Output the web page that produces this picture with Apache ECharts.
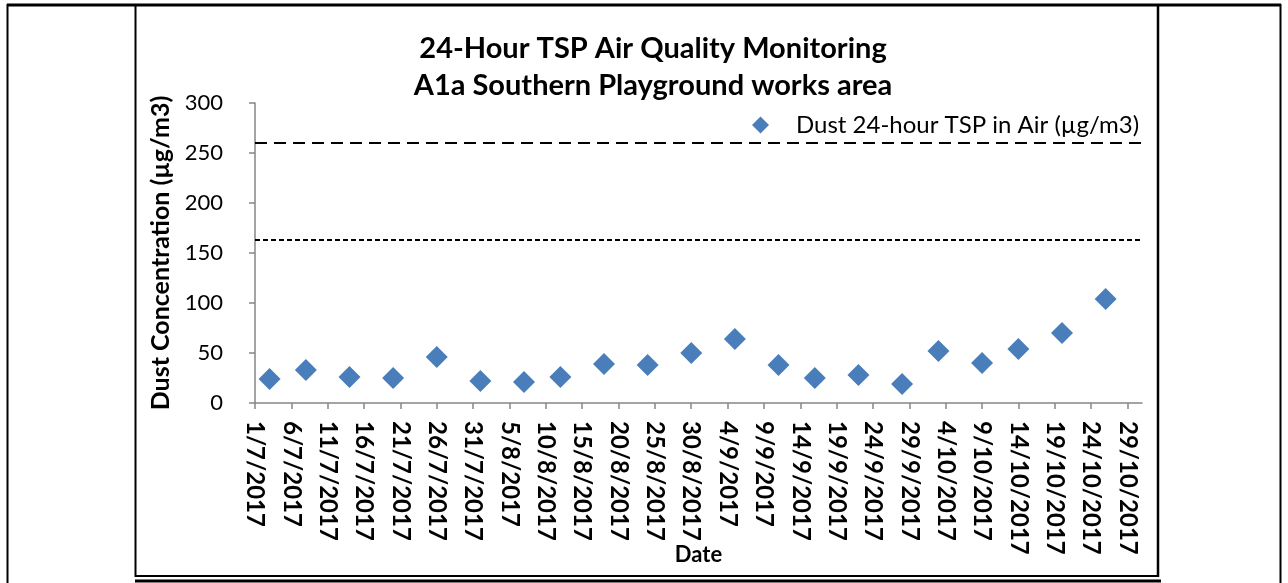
<!DOCTYPE html>
<html><head><meta charset="utf-8">
<script src="https://cdn.jsdelivr.net/npm/echarts@6/dist/echarts.min.js"></script>
<style>html,body{margin:0;padding:0;background:#fff}#c{width:1288px;height:583px}</style>
</head><body><div id="c"></div>
<script>
const chartTitle = ['24-Hour TSP Air Quality Monitoring', 'A1a Southern Playground works area'];
const seriesName = 'Dust 24-hour TSP in Air (\u00b5g/m3)';
const sampleDates = ['3/7/2017','8/7/2017','14/7/2017','20/7/2017','26/7/2017','1/8/2017','7/8/2017',
  '12/8/2017','18/8/2017','24/8/2017','30/8/2017','5/9/2017','11/9/2017','16/9/2017','22/9/2017',
  '28/9/2017','3/10/2017','9/10/2017','14/10/2017','20/10/2017','26/10/2017'];
const tspValues = [24,33,26,25,46,22,21,26,39,38,50,64,38,25,28,19,52,40,54,70,104];
const limitLevels = [260, 163];
const xTickDates = ['1/7/2017','6/7/2017','11/7/2017','16/7/2017','21/7/2017','26/7/2017','31/7/2017',
  '5/8/2017','10/8/2017','15/8/2017','20/8/2017','25/8/2017','30/8/2017','4/9/2017','9/9/2017',
  '14/9/2017','19/9/2017','24/9/2017','29/9/2017','4/10/2017','9/10/2017','14/10/2017','19/10/2017',
  '24/10/2017','29/10/2017'];
const xAxisStart = '1/7/2017';
const xAxisEnd = '31/10/2017';
const yTicks = [0,50,100,150,200,250,300];

const DAY = 86400000;
function toUTC(s){ const p = s.split('/').map(Number); return Date.UTC(p[2], p[1]-1, p[0]); }
const base = toUTC(xAxisStart);
const toOff = s => Math.round((toUTC(s) - base) / DAY);
const offToLabel = {};
xTickDates.forEach(d => { offToLabel[toOff(d)] = d; });
const tickOffs = xTickDates.map(toOff);

const FONT = 'Lato, "Open Sans", sans-serif';
const chart = echarts.init(document.getElementById('c'), null, {renderer:'canvas'});
const axisColor = '#868686';
chart.setOption({
  backgroundColor: '#fff',
  animation: false,
  title: {
    text: chartTitle.join('\n'),
    left: 648, top: 25, textAlign: 'center',
    textStyle: {fontFamily: FONT, fontWeight: 'bold', fontSize: 29, lineHeight: 37, color: '#000'}
  },
  legend: {
    left: 747, top: 108, itemWidth: 17, itemHeight: 17,
    textStyle: {fontFamily: FONT, fontSize: 24, color: '#000', padding: [0,0,0,22]},
    data: [{name: seriesName, icon: 'diamond'}]
  },
  grid: {left: 255, right: 146, top: 103, bottom: 180, outerBoundsMode: 'none', containLabel: false},
  xAxis: {
    type: 'value', min: toOff(xAxisStart), max: toOff(xAxisEnd),
    name: 'Date', nameLocation: 'middle', nameGap: 141, nameMoveOverlap: false,
    nameTextStyle: {fontFamily: FONT, fontWeight: 'bold', fontSize: 22, color: '#000'},
    splitLine: {show: false},
    axisLine: {show: true, onZero: false, lineStyle: {color: axisColor, width: 1.5}},
    axisTick: {show: true, length: 6, customValues: tickOffs, lineStyle: {color: axisColor, width: 1.5}},
    axisLabel: {customValues: tickOffs, rotate: -90, margin: 18, fontFamily: FONT, fontWeight: 'bold',
      fontSize: 24, color: '#000', formatter: v => offToLabel[Math.round(v)] || ''}
  },
  yAxis: {
    type: 'value', min: yTicks[0], max: yTicks[yTicks.length-1], interval: yTicks[1]-yTicks[0],
    name: 'Dust Concentration (\u00b5g/m3)', nameLocation: 'middle', nameGap: 82, nameRotate: 90,
    nameMoveOverlap: false,
    nameTextStyle: {fontFamily: FONT, fontWeight: 'bold', fontSize: 25, color: '#000'},
    splitLine: {show: false},
    axisLine: {show: true, lineStyle: {color: axisColor, width: 1.5}},
    axisTick: {show: true, length: 6, lineStyle: {color: axisColor, width: 1.5}},
    axisLabel: {margin: 32, fontFamily: FONT, fontSize: 22, color: '#000'}
  },
  series: [{
    name: seriesName, type: 'scatter', symbol: 'diamond', symbolSize: 22,
    itemStyle: {color: '#4a7ebb', opacity: 1},
    data: sampleDates.map((d, i) => [toOff(d), tspValues[i]]),
    markLine: {
      silent: true, symbol: 'none', label: {show: false},
      data: [
        {yAxis: limitLevels[0], lineStyle: {color: '#000', width: 2, type: [12, 7]}},
        {yAxis: limitLevels[1], lineStyle: {color: '#000', width: 2, type: [5, 3]}}
      ]
    }
  }],
  graphic: [
    {type: 'line', shape: {x1: 7, y1: 5, x2: 1281, y2: 5}, style: {stroke: '#000', lineWidth: 3}},
    {type: 'line', shape: {x1: 7.5, y1: 4, x2: 7.5, y2: 583}, style: {stroke: '#000', lineWidth: 2}},
    {type: 'line', shape: {x1: 1280.5, y1: 4, x2: 1280.5, y2: 583}, style: {stroke: '#000', lineWidth: 2}},
    {type: 'line', shape: {x1: 135.5, y1: 5, x2: 135.5, y2: 577}, style: {stroke: '#000', lineWidth: 2}},
    {type: 'line', shape: {x1: 1158, y1: 5, x2: 1158, y2: 577}, style: {stroke: '#000', lineWidth: 2.5}},
    {type: 'line', shape: {x1: 135, y1: 576, x2: 1159, y2: 576}, style: {stroke: '#000', lineWidth: 2}},
    {type: 'line', shape: {x1: 135, y1: 581, x2: 1161, y2: 581}, style: {stroke: '#000', lineWidth: 3}}
  ]
});
</script></body></html>
